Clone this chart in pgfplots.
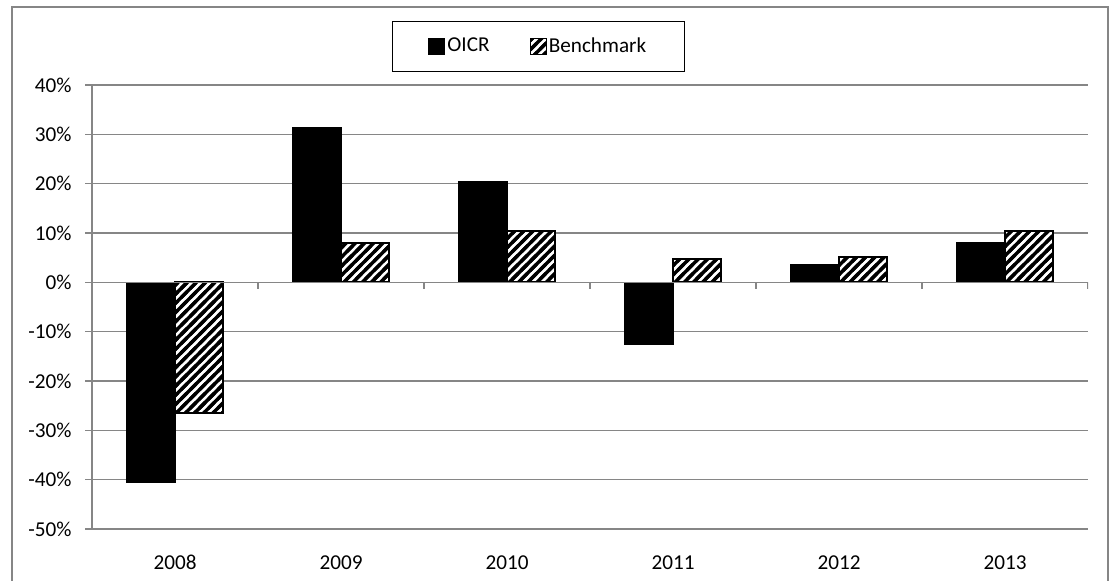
\documentclass[border=0pt]{standalone}
\usepackage{fontspec}
\setmainfont{Carlito}
\usepackage{pgfplots}
\pgfplotsset{compat=1.18}
\usetikzlibrary{patterns}
\definecolor{gridgray}{RGB}{134,134,134}

% thick diagonal stripes, as in the reference's Benchmark bars
\pgfdeclarepatternformonly{thickstripes}{\pgfqpoint{-2pt}{-2pt}}{\pgfqpoint{6.6pt}{6.6pt}}{\pgfqpoint{4.6pt}{4.6pt}}{
  \pgfsetlinewidth{1.7pt}
  \pgfpathmoveto{\pgfqpoint{-2pt}{-2pt}}
  \pgfpathlineto{\pgfqpoint{6.6pt}{6.6pt}}
  \pgfusepath{stroke}
}

\begin{document}
\fontsize{10.6pt}{12pt}\selectfont
\begin{tikzpicture}[x=1pt,y=1pt]
\useasboundingbox (0,0) rectangle (558.5,290);
\draw[gridgray, line width=1pt] (6,-10) rectangle (554,286.5);
\begin{axis}[
at={(46pt,25.5pt)}, anchor=south west,
scale only axis,
width=498pt, height=222pt,
xmin=-0.5, xmax=5.5,
ymin=-50, ymax=40,
ybar=0pt, bar width=24pt,
axis y line*=left, axis x line*=bottom,
axis line style={gridgray, line width=0.75pt, -},
ytick={-50,-40,-30,-20,-10,0,10,20,30,40},
yticklabels={-50\%,-40\%,-30\%,-20\%,-10\%,0\%,10\%,20\%,30\%,40\%},
ymajorgrids,
major grid style={gridgray, line width=0.75pt},
y tick style={gridgray, line width=0.75pt},
tick align=outside,
major tick length=3.5pt,
xtick={0,1,2,3,4,5},
xticklabels={2008,2009,2010,2011,2012,2013},
x tick style={draw=none},
xticklabel style={yshift=-6pt},
yticklabel style={xshift=-3pt},
legend columns=2,
legend style={at={(0.448,1.087)}, anchor=center, draw=black, line width=0.6pt,
  inner xsep=18pt, inner ysep=6pt,
  nodes={inner xsep=1pt},
  /tikz/every odd column/.append style={column sep=0pt},
  /tikz/every even column/.append style={column sep=19pt}},
legend image code/.code={\draw[#1, line width=0.6pt] (0pt,-4pt) rectangle (8pt,4pt);},
]
\addplot[fill=black, draw=black, line width=0.6pt] coordinates {
(0,-40.5) (1,31.4) (2,20.5) (3,-12.5) (4,3.6) (5,8.0)
};
\addlegendentry{OICR}
\addplot[fill=white, draw=black, line width=0.9pt,
  postaction={pattern=thickstripes}] coordinates {
(0,-26.5) (1,8.0) (2,10.4) (3,4.7) (4,5.1) (5,10.4)
};
\addlegendentry{Benchmark}
\draw[gridgray, line width=0.75pt] (axis cs:-0.5,0) -- (axis cs:5.5,0);
\pgfplotsinvokeforeach{-0.5,0.5,1.5,2.5,3.5,4.5,5.5}{
  \draw[gridgray, line width=0.75pt] (axis cs:#1,0) -- ++(0pt,-3.5pt);
}
\end{axis}
\end{tikzpicture}
\end{document}
